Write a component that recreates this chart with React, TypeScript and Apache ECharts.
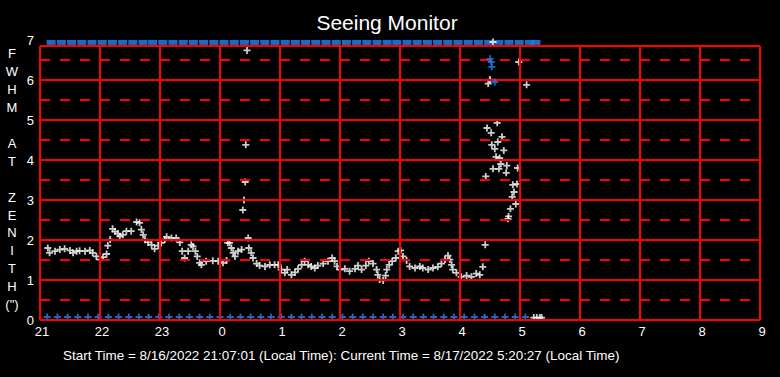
import React, { useEffect, useRef } from "react";
import * as echarts from "echarts";

// x = hours since 21:00 local time
const hourLabels = ["21", "22", "23", "0", "1", "2", "3", "4", "5", "6", "7", "8", "9"];
const yTickLabels = ["0", "1", "2", "3", "4", "5", "6", "7"];
const solidLevels = [0, 1, 2, 3, 4, 5, 6];
const dashedLevels = [0.5, 1.5, 2.5, 3.5, 4.5, 5.5, 6.5];
const frameTop = 6.85;

const titleText = "Seeing Monitor";
const yAxisTitle = "F\nW\nH\nM\n\nA\nT\n\nZ\nE\nN\nI\nT\nH\n(\")";
const footerText =
  "Start Time = 8/16/2022 21:07:01 (Local Time): Current Time = 8/17/2022 5:20:27 (Local Time)";

// FWHM samples [hour offset, arcsec]
const fwhm: [number, number][] = [
  [0.13, 1.8], [0.16, 1.68], [0.25, 1.72], [0.33, 1.76], [0.41, 1.78], [0.5, 1.74], [0.55, 1.68],
  [0.61, 1.72], [0.66, 1.73], [0.75, 1.72], [0.83, 1.74], [0.88, 1.68], [0.94, 1.59], [1.0, 1.51],
  [1.05, 1.57], [1.11, 1.65], [1.13, 1.86], [1.17, 2.01], [1.21, 2.28], [1.25, 2.21], [1.3, 2.16],
  [1.33, 2.09], [1.38, 2.13], [1.44, 2.22], [1.52, 2.22], [1.61, 2.45], [1.66, 2.43], [1.69, 2.26],
  [1.72, 2.13], [1.75, 2.01], [1.8, 1.94], [1.86, 1.88], [1.91, 1.78], [1.97, 1.86], [2.02, 1.93],
  [2.08, 2.01], [2.11, 2.08], [2.19, 2.05], [2.27, 2.05], [2.33, 1.94], [2.37, 1.72], [2.41, 1.55],
  [2.47, 1.72], [2.52, 1.88], [2.55, 1.84], [2.59, 1.72], [2.62, 1.59], [2.66, 1.43], [2.69, 1.38],
  [2.77, 1.47], [2.88, 1.48], [2.97, 1.47], [3.05, 1.43], [3.11, 1.49], [3.13, 1.93], [3.16, 1.93],
  [3.19, 1.8], [3.22, 1.68], [3.25, 1.59], [3.3, 1.72], [3.36, 1.76], [3.38, 2.75], [3.4, 3.0],
  [3.42, 3.45], [3.43, 4.38], [3.45, 6.74], [3.47, 2.05], [3.48, 1.8], [3.52, 1.68], [3.55, 1.55],
  [3.61, 1.41], [3.66, 1.36], [3.75, 1.34], [3.83, 1.38], [3.91, 1.38], [3.97, 1.38], [4.02, 1.26],
  [4.08, 1.18], [4.12, 1.26], [4.19, 1.13], [4.25, 1.19], [4.3, 1.28], [4.36, 1.38], [4.41, 1.47],
  [4.47, 1.38], [4.52, 1.34], [4.58, 1.3], [4.63, 1.36], [4.72, 1.41], [4.8, 1.47], [4.87, 1.55],
  [4.91, 1.47], [4.95, 1.34], [5.0, 1.26], [5.08, 1.28], [5.16, 1.22], [5.25, 1.28], [5.3, 1.36],
  [5.36, 1.26], [5.43, 1.36], [5.48, 1.47], [5.55, 1.41], [5.61, 1.26], [5.63, 1.13], [5.66, 1.01],
  [5.72, 0.99], [5.76, 1.11], [5.78, 1.26], [5.82, 1.38], [5.87, 1.47], [5.93, 1.55], [5.97, 1.72],
  [6.01, 1.74], [6.05, 1.59], [6.11, 1.49], [6.16, 1.34], [6.25, 1.3], [6.33, 1.34], [6.38, 1.3],
  [6.47, 1.26], [6.55, 1.3], [6.63, 1.33], [6.69, 1.41], [6.75, 1.51], [6.8, 1.61], [6.83, 1.51],
  [6.86, 1.38], [6.88, 1.26], [6.94, 1.18], [7.02, 1.08], [7.11, 1.11], [7.19, 1.08], [7.27, 1.16],
  [7.33, 1.13], [7.38, 1.33], [7.42, 1.88], [7.43, 3.59], [7.45, 4.8], [7.47, 5.91], [7.5, 6.01],
  [7.52, 4.68], [7.53, 4.38], [7.55, 3.78], [7.55, 6.95], [7.58, 4.28], [7.6, 4.08], [7.62, 4.93],
  [7.63, 4.45], [7.65, 3.78], [7.66, 4.05], [7.68, 3.9], [7.7, 4.58], [7.73, 4.24], [7.77, 3.68],
  [7.78, 3.86], [7.8, 2.53], [7.81, 2.59], [7.84, 2.78], [7.87, 3.08], [7.88, 3.38], [7.9, 3.2],
  [7.93, 2.9], [7.95, 3.4], [7.96, 3.8], [7.98, 6.45], [8.11, 5.88], [8.23, 0.06], [8.28, 0.06],
  [8.33, 0.06], [8.36, 0.06],
];

// flagged samples shown in blue
const flagged: [number, number][] = [[7.5, 6.53], [7.52, 6.45], [7.53, 6.33], [7.58, 5.95]];

// sample times for the status rows (top row at 7, bottom row at 0)
const sampleTimes = [
  0.12, 0.29, 0.46, 0.63, 0.8, 0.97, 1.14, 1.31, 1.48, 1.65, 1.81, 1.98, 2.15, 2.32, 2.49, 2.66,
  2.83, 3.0, 3.17, 3.34, 3.51, 3.68, 3.85, 4.02, 4.19, 4.36, 4.53, 4.7, 4.87, 5.04, 5.21, 5.38,
  5.55, 5.72, 5.88, 6.05, 6.22, 6.39, 6.56, 6.73, 6.9, 7.07, 7.24, 7.41, 7.58, 7.75, 7.92, 8.09,
];
const topExtraTimes = [8.2];
const topValue = 7;
const bottomValue = 0;

const RED = "#ff0000";
const BLUE = "#1e86f8";
const FONT = '"Liberation Sans", Arial, sans-serif';
const PLUS = "path://M2.6,0H4.4V2.6H7V4.4H4.4V7H2.6V4.4H0V2.6H2.6Z";

export default function App() {
  const ref = useRef<HTMLDivElement>(null);

  useEffect(() => {
    if (!ref.current) return;
    const chart = echarts.init(ref.current, null, { renderer: "svg" });
    const xMax = hourLabels.length - 1;

    const gridLines: any[] = [];
    solidLevels.forEach((v) =>
      gridLines.push([{ coord: [0, v], lineStyle: { type: "solid" } }, { coord: [xMax, v] }])
    );
    dashedLevels.forEach((v) =>
      gridLines.push([{ coord: [0, v], lineStyle: { type: [10, 10] } }, { coord: [xMax, v] }])
    );
    gridLines.push([{ coord: [0, frameTop], lineStyle: { type: "solid" } }, { coord: [xMax, frameTop] }]);
    hourLabels.forEach((_, i) =>
      gridLines.push([{ coord: [i, 0], lineStyle: { type: "solid" } }, { coord: [i, frameTop] }])
    );

    const option: any = {
      animation: false,
      backgroundColor: "#000000",
      grid: { left: 40, right: 20, top: 40, bottom: 57 },
      xAxis: {
        type: "value",
        min: 0,
        max: xMax,
        interval: 1,
        axisLine: { show: false },
        axisTick: { show: false },
        splitLine: { show: false },
        axisLabel: {
          color: "#ffffff",
          fontSize: 13,
          fontFamily: FONT,
          margin: 5,
          padding: [0, 0, 0, 4],
          formatter: (v: number) => hourLabels[Math.round(v)] ?? "",
        },
      },
      yAxis: {
        type: "value",
        min: 0,
        max: yTickLabels.length - 1,
        interval: 1,
        axisLine: { show: false },
        axisTick: { show: false },
        splitLine: { show: false },
        axisLabel: {
          color: "#ffffff",
          fontSize: 13,
          fontFamily: FONT,
          margin: 6,
          formatter: (v: number) => yTickLabels[Math.round(v)] ?? "",
        },
      },
      graphic: [
        {
          type: "text",
          x: 387,
          y: 22,
          style: {
            text: titleText,
            fill: "#ffffff",
            font: `21px ${FONT}`,
            textAlign: "center",
            textVerticalAlign: "middle",
          },
        },
        {
          type: "text",
          x: 12,
          y: 45,
          style: {
            text: yAxisTitle,
            fill: "#ffffff",
            font: `13px ${FONT}`,
            lineHeight: 17.9,
            textAlign: "center",
            textVerticalAlign: "top",
          },
        },
        {
          type: "text",
          x: 63,
          y: 355,
          style: {
            text: footerText,
            fill: "#ffffff",
            font: `13.45px ${FONT}`,
            textAlign: "left",
            textVerticalAlign: "middle",
          },
        },
      ],
      series: [
        {
          type: "line",
          data: [],
          silent: true,
          z: 1,
          markLine: {
            silent: true,
            symbol: ["none", "none"],
            label: { show: false },
            emphasis: { disabled: true },
            lineStyle: { color: RED, width: 2, opacity: 1 },
            data: gridLines,
          },
        },
        {
          type: "scatter",
          name: "top",
          z: 3,
          clip: false,
          silent: true,
          symbol: "rect",
          symbolSize: [9, 5],
          symbolOffset: [4, 2.4],
          itemStyle: { color: BLUE },
          data: sampleTimes.concat(topExtraTimes).map((t) => [t, topValue]),
        },
        {
          type: "scatter",
          name: "bottom",
          z: 3,
          clip: false,
          silent: true,
          symbol: PLUS,
          symbolSize: 7,
          symbolOffset: [0, -3],
          itemStyle: { color: BLUE },
          data: sampleTimes.map((t) => [t, bottomValue]),
        },
        {
          type: "scatter",
          name: "FWHM",
          z: 4,
          clip: false,
          silent: true,
          symbol: PLUS,
          symbolSize: 7,
          itemStyle: { color: "#ffffff" },
          data: fwhm,
        },
        {
          type: "scatter",
          name: "flagged",
          z: 5,
          clip: false,
          silent: true,
          symbol: PLUS,
          symbolSize: 7,
          itemStyle: { color: BLUE },
          data: flagged,
        },
      ],
    };

    chart.setOption(option);
    return () => chart.dispose();
  }, []);

  return (
    <div
      ref={ref}
      style={{ position: "fixed", left: 0, top: 0, width: 780, height: 377, background: "#000" }}
    />
  );
}
